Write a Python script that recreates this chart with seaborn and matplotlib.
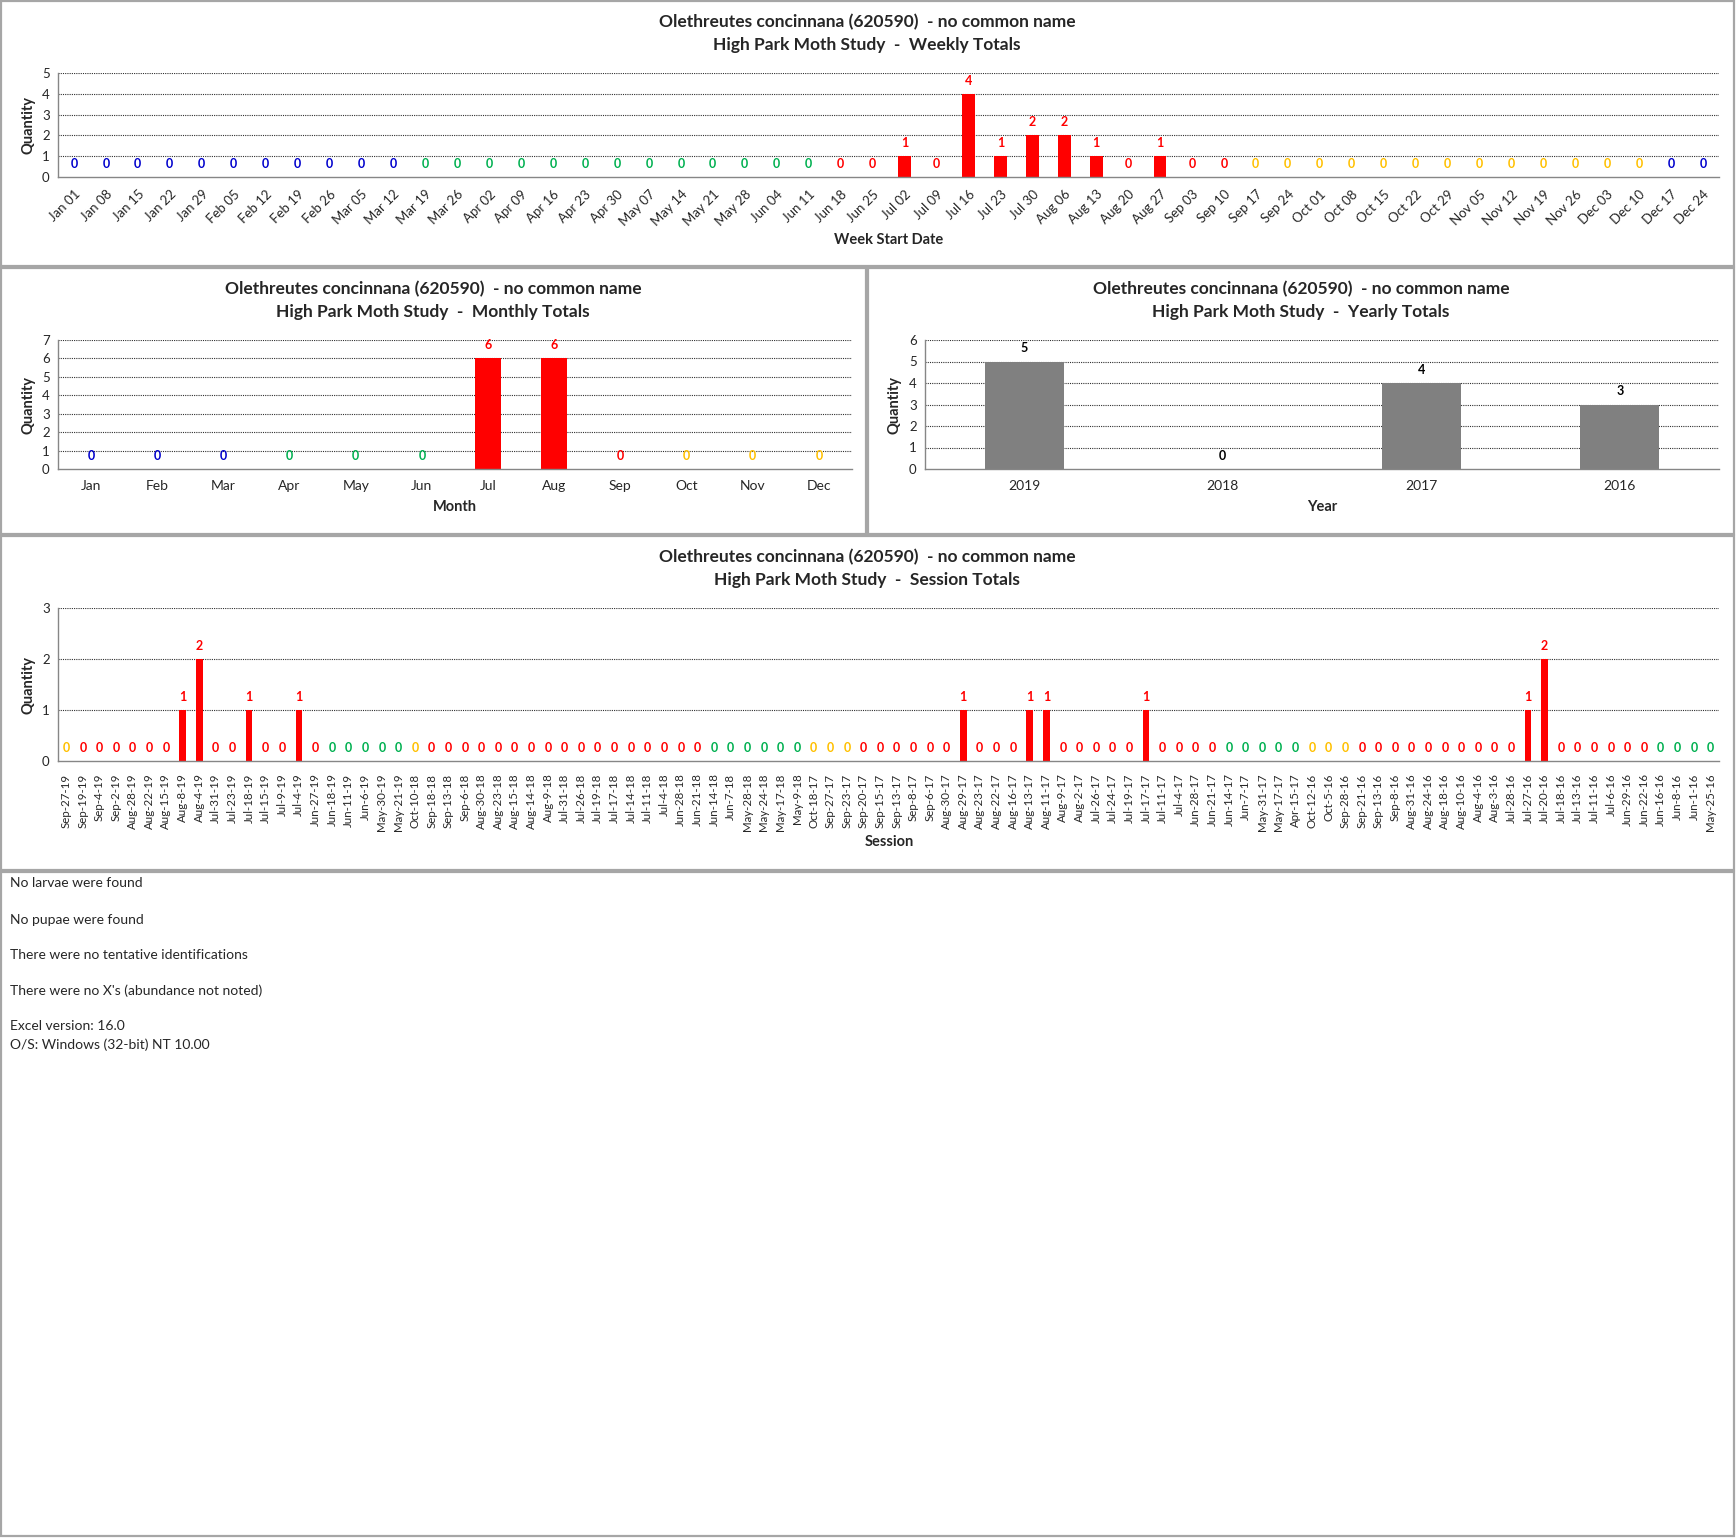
import numpy as np
import pandas as pd
import matplotlib
matplotlib.use("Agg")
import matplotlib.pyplot as plt
from matplotlib.patches import Rectangle
import seaborn as sns

# ---------------- data ----------------
TITLE1 = "Olethreutes concinnana (620590)  - no common name"

week_labels = ["Jan 01", "Jan 08", "Jan 15", "Jan 22", "Jan 29", "Feb 05", "Feb 12", "Feb 19",
               "Feb 26", "Mar 05", "Mar 12", "Mar 19", "Mar 26", "Apr 02", "Apr 09", "Apr 16",
               "Apr 23", "Apr 30", "May 07", "May 14", "May 21", "May 28", "Jun 04", "Jun 11",
               "Jun 18", "Jun 25", "Jul 02", "Jul 09", "Jul 16", "Jul 23", "Jul 30", "Aug 06",
               "Aug 13", "Aug 20", "Aug 27", "Sep 03", "Sep 10", "Sep 17", "Sep 24", "Oct 01",
               "Oct 08", "Oct 15", "Oct 22", "Oct 29", "Nov 05", "Nov 12", "Nov 19", "Nov 26",
               "Dec 03", "Dec 10", "Dec 17", "Dec 24"]
week_values = [0] * 26 + [1, 0, 4, 1, 2, 2, 1, 0, 1] + [0] * 17
week_season_runs = [("winter", 11), ("spring", 13), ("summer", 13), ("fall", 13), ("winter", 2)]

month_labels = ["Jan", "Feb", "Mar", "Apr", "May", "Jun", "Jul", "Aug", "Sep", "Oct", "Nov", "Dec"]
month_values = [0, 0, 0, 0, 0, 0, 6, 6, 0, 0, 0, 0]
month_seasons = ["winter"] * 3 + ["spring"] * 3 + ["summer"] * 3 + ["fall"] * 3

year_labels = ["2019", "2018", "2017", "2016"]
year_values = [5, 0, 4, 3]

session_labels = [
    "Sep-27-19", "Sep-19-19", "Sep-4-19", "Sep-2-19", "Aug-28-19", "Aug-22-19", "Aug-15-19",
    "Aug-8-19", "Aug-4-19", "Jul-31-19", "Jul-23-19", "Jul-18-19", "Jul-15-19", "Jul-9-19",
    "Jul-4-19", "Jun-27-19", "Jun-18-19", "Jun-11-19", "Jun-6-19", "May-30-19", "May-21-19",
    "Oct-10-18", "Sep-18-18", "Sep-13-18", "Sep-6-18", "Aug-30-18", "Aug-23-18", "Aug-15-18",
    "Aug-14-18", "Aug-9-18", "Jul-31-18", "Jul-26-18", "Jul-19-18", "Jul-17-18", "Jul-14-18",
    "Jul-11-18", "Jul-4-18", "Jun-28-18", "Jun-21-18", "Jun-14-18", "Jun-7-18", "May-28-18",
    "May-24-18", "May-17-18", "May-9-18", "Oct-18-17", "Sep-27-17", "Sep-23-17", "Sep-20-17",
    "Sep-15-17", "Sep-13-17", "Sep-8-17", "Sep-6-17", "Aug-30-17", "Aug-29-17", "Aug-23-17",
    "Aug-22-17", "Aug-16-17", "Aug-13-17", "Aug-11-17", "Aug-9-17", "Aug-2-17", "Jul-26-17",
    "Jul-24-17", "Jul-19-17", "Jul-17-17", "Jul-11-17", "Jul-4-17", "Jun-28-17", "Jun-21-17",
    "Jun-14-17", "Jun-7-17", "May-31-17", "May-17-17", "Apr-15-17", "Oct-12-16", "Oct-5-16",
    "Sep-28-16", "Sep-21-16", "Sep-13-16", "Sep-8-16", "Aug-31-16", "Aug-24-16", "Aug-18-16",
    "Aug-10-16", "Aug-4-16", "Aug-3-16", "Jul-28-16", "Jul-27-16", "Jul-20-16", "Jul-18-16",
    "Jul-13-16", "Jul-11-16", "Jul-6-16", "Jun-29-16", "Jun-22-16", "Jun-16-16", "Jun-8-16",
    "Jun-1-16", "May-25-16"]
session_nonzero = {"Aug-8-19": 1, "Aug-4-19": 2, "Jul-18-19": 1, "Jul-4-19": 1,
                   "Aug-29-17": 1, "Aug-13-17": 1, "Aug-11-17": 1, "Jul-17-17": 1,
                   "Jul-27-16": 1, "Jul-20-16": 2}
session_values = [session_nonzero.get(s, 0) for s in session_labels]

notes = ["No larvae were found", "No pupae were found", "There were no tentative identifications",
         "There were no X's (abundance not noted)", "Excel version: 16.0",
         "O/S: Windows (32-bit) NT 10.00"]

# ---------------- style ----------------
SEASON_COL = {"winter": "#0000CC", "spring": "#00B050", "summer": "#FF0000", "fall": "#FFC000"}
MONTHS = {m: i + 1 for i, m in enumerate(month_labels)}


def season_of(label):
    mon, day = label.split("-")[:2]
    md = MONTHS[mon] * 100 + int(day)
    if 320 <= md <= 620:
        return "spring"
    if 621 <= md <= 921:
        return "summer"
    if 922 <= md <= 1220:
        return "fall"
    return "winter"


week_seasons = [s for s, n in week_season_runs for _ in range(n)]
session_seasons = [season_of(s) for s in session_labels]

sns.set_style("white")
plt.rcParams["font.family"] = ["Lato", "DejaVu Sans"]

W, H = 1736, 1538
fig = plt.figure(figsize=(W / 100, H / 100), dpi=100)
fig.patch.set_facecolor("white")


def rect(l, t, r, b):
    return [l / W, 1 - b / H, (r - l) / W, (b - t) / H]


def ftext(x, y, s, **kw):
    fig.text(x / W, 1 - y / H, s, **kw)


# panel borders
for (l, t, r, b) in [(1, 1, 1734, 266), (1, 268, 866, 534), (868, 268, 1734, 534),
                     (1, 536, 1734, 870), (1, 872, 1734, 1536)]:
    fig.add_artist(Rectangle((l / W, 1 - b / H), (r - l) / W, (b - t) / H,
                             transform=fig.transFigure, fill=False,
                             edgecolor="#A6A6A6", lw=1.6))


def make_chart(box, labels, values, label_colors, bar_color, ymax, rot, tick_fs,
               title2, title_xy, xlabel, xlabel_xy, ylab_x, xpad=8):
    ax = fig.add_axes(rect(*box))
    df = pd.DataFrame({"pos": np.arange(len(values)), "val": values})
    sns.barplot(data=df, x="pos", y="val", color=bar_color, width=0.4, ax=ax,
                saturation=1, errorbar=None)
    for p in ax.patches:
        p.set_edgecolor("none")
    n = len(values)
    ax.set_xlim(-0.5, n - 0.5)
    ax.set_ylim(0, ymax)
    ax.set_yticks(range(ymax + 1))
    ax.set_yticklabels([str(v) for v in range(ymax + 1)], fontsize=9.5)
    for yv in range(1, ymax + 1):
        ax.axhline(yv, color="#303030", lw=0.8, ls=(0, (1, 1)), zorder=0)
    ax.set_xticks(np.arange(n))
    if rot == 45:
        ax.set_xticklabels(labels, rotation=45, ha="right", rotation_mode="anchor",
                           fontsize=tick_fs)
    elif rot == 90:
        ax.set_xticklabels(labels, rotation=90, ha="center", va="top", fontsize=tick_fs)
    else:
        ax.set_xticklabels(labels, fontsize=tick_fs)
    ax.tick_params(axis="x", which="major", length=0, pad=xpad)
    ax.set_xticks(np.arange(n + 1) - 0.5, minor=True)
    ax.tick_params(axis="x", which="minor", length=5, color="#868686", width=1)
    ax.tick_params(axis="y", length=4, color="#868686", width=1, pad=2)
    ax.set_xlabel("")
    ax.set_ylabel("")
    for s in ["top", "right"]:
        ax.spines[s].set_visible(False)
    for s in ["left", "bottom"]:
        ax.spines[s].set_color("#868686")
        ax.spines[s].set_linewidth(1.0)
    ax.set_facecolor("white")
    for i, v in enumerate(values):
        ax.annotate(str(v), (i, v), xytext=(0, 9.5), textcoords="offset points",
                    ha="center", va="center", fontsize=9, fontweight="bold",
                    color=label_colors[i], annotation_clip=False)
    ftext(title_xy[0], title_xy[1], TITLE1, ha="center", va="center",
          fontsize=12.5, fontweight="bold")
    ftext(title_xy[0], title_xy[1] + 23, title2, ha="center", va="center",
          fontsize=12.5, fontweight="bold")
    ftext(xlabel_xy[0], xlabel_xy[1], xlabel, ha="center", va="center",
          fontsize=10.5, fontweight="bold")
    ftext(ylab_x, (box[1] + box[3]) / 2, "Quantity", ha="center", va="center",
          rotation=90, fontsize=10.5, fontweight="bold")
    return ax


make_chart((58, 73, 1719, 177), week_labels, week_values,
           [SEASON_COL[s] for s in week_seasons], "#FF0000", 5, 45, 9.5,
           "High Park Moth Study  -  Weekly Totals", (867, 22),
           "Week Start Date", (889, 240), 28)

make_chart((58, 340, 852, 469), month_labels, month_values,
           [SEASON_COL[s] for s in month_seasons], "#FF0000", 7, 0, 10,
           "High Park Moth Study  -  Monthly Totals", (433, 289),
           "Month", (455, 507), 28)

make_chart((925, 340, 1719, 469), year_labels, year_values,
           ["black"] * len(year_values), "#808080", 6, 0, 10,
           "High Park Moth Study  -  Yearly Totals", (1301, 289),
           "Year", (1322, 507), 895)

make_chart((58, 608, 1719, 761), session_labels, session_values,
           [SEASON_COL[s] for s in session_seasons], "#FF0000", 3, 90, 8.3,
           "High Park Moth Study  -  Session Totals", (867, 557),
           "Session", (889, 842), 28, xpad=9)

note_y = [883, 920, 955, 991, 1026, 1045]
for s, y in zip(notes, note_y):
    ftext(10, y, s, ha="left", va="center", fontsize=10)

fig.savefig("out.png", dpi=100, facecolor="white")
